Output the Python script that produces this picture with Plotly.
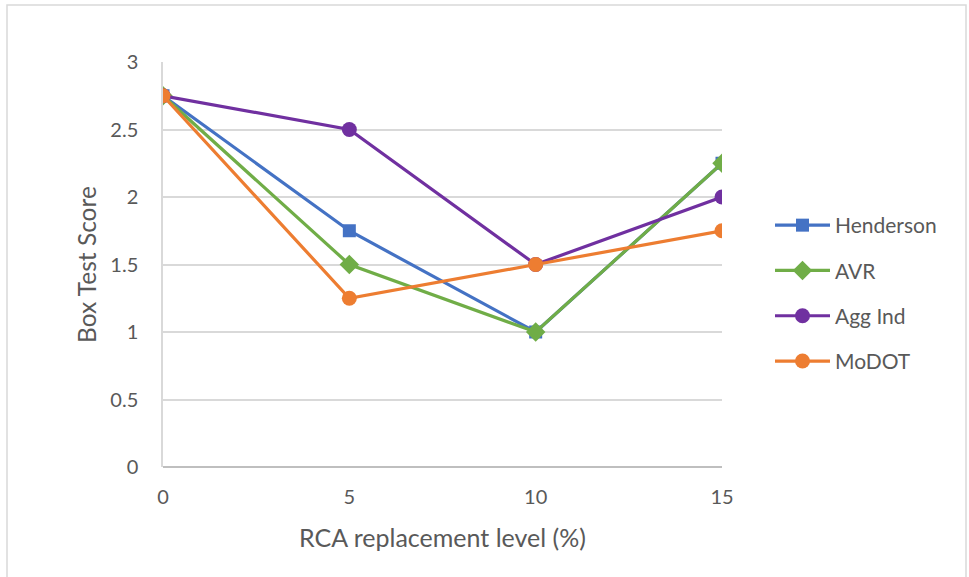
import plotly.graph_objects as go

# RCA replacement level (%) on x, Box Test Score on y
levels = [0, 5, 10, 15]
henderson = [2.75, 1.75, 1.0, 2.25]
avr = [2.75, 1.5, 1.0, 2.25]
agg_ind = [2.75, 2.5, 1.5, 2.0]
modot = [2.75, 1.25, 1.5, 1.75]

x_ticks = [0, 5, 10, 15]
y_ticks = [0, 0.5, 1, 1.5, 2, 2.5, 3]
y_tick_text = ["0", "0.5", "1", "1.5", "2", "2.5", "3"]

W, H = 969, 577
ML, MR, MT, MB = 163, 247, 62, 110
FONT = "Lato"
TXT = "#595959"

series = [
    ("Henderson", henderson, "#4472C4", "square", 13),
    ("AVR", avr, "#70AD47", "diamond", 15),
    ("Agg Ind", agg_ind, "#7030A0", "circle", 15),
    ("MoDOT", modot, "#ED7D31", "circle", 15),
]

fig = go.Figure()
for i, (name, vals, color, sym, msize) in enumerate(series):
    fig.add_trace(go.Scatter(
        x=levels, y=vals, name=name, mode="lines+markers",
        legendgroup=f"g{i}",
        line=dict(color=color, width=3.2),
        marker=dict(symbol=sym, size=msize, color=color),
    ))

# chart frame, expressed in paper coordinates
pw = W - ML - MR
ph = H - MT - MB
def px_x(p):
    return (p - ML) / pw
def px_y(p):
    return (H - MB - p) / ph

fig.add_shape(type="rect", xref="paper", yref="paper",
              x0=px_x(7), x1=px_x(966), y0=px_y(5), y1=px_y(590),
              line=dict(color="#D9D9D9", width=1.5), layer="below")

fig.update_layout(
    width=W, height=H,
    margin=dict(l=ML, r=MR, t=MT, b=MB),
    paper_bgcolor="white", plot_bgcolor="white",
    font=dict(family=FONT, size=20, color=TXT),
    legend=dict(
        x=px_x(770), xanchor="left", y=px_y(205), yanchor="top",
        font=dict(family=FONT, size=21, color=TXT),
        traceorder="grouped", tracegroupgap=15, itemwidth=55,
        bgcolor="rgba(0,0,0,0)",
    ),
    xaxis=dict(
        range=[0, 15], tickvals=x_ticks, showgrid=False, zeroline=False,
        showline=False, ticks="", ticklen=0, ticklabelstandoff=16,
        title=dict(text="RCA replacement level (%)", standoff=22,
                   font=dict(family=FONT, size=25, color=TXT)),
        tickfont=dict(family=FONT, size=20, color=TXT),
    ),
    yaxis=dict(
        range=[0, 3], tickvals=y_ticks, ticktext=y_tick_text,
        showgrid=True, gridcolor="#D9D9D9", gridwidth=1.5,
        zeroline=True, zerolinecolor="#BFBFBF", zerolinewidth=1.5,
        showline=True, linecolor="#D9D9D9", linewidth=1.5,
        ticks="", ticklabelstandoff=19,
        title=dict(text="Box Test Score", standoff=7,
                   font=dict(family=FONT, size=24.5, color=TXT)),
        tickfont=dict(family=FONT, size=20, color=TXT),
    ),
)

fig.write_html("out.html")
